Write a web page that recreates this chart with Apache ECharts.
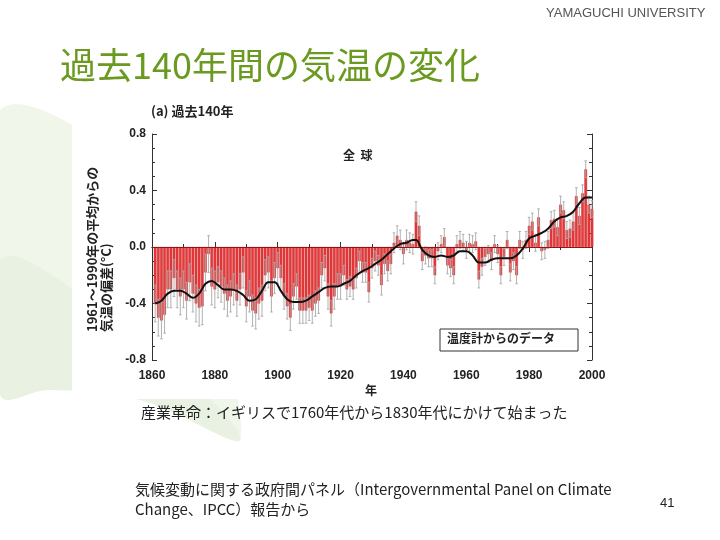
<!DOCTYPE html>
<html><head><meta charset="utf-8">
<script src="https://cdn.jsdelivr.net/npm/echarts@6/dist/echarts.min.js"></script>
<style>html,body{margin:0;padding:0;background:#fff}#c{width:720px;height:540px}</style>
</head><body><div id="c"></div>
<script>
// ---- data ----
const firstYear = 1861;
const anomaly = [
 -0.40,-0.50,-0.52,-0.48,-0.30,-0.30,-0.22,-0.30,-0.35,-0.30,
 -0.38,-0.25,-0.33,-0.40,-0.43,-0.42,-0.18,-0.05,-0.28,-0.30,
 -0.25,-0.28,-0.33,-0.38,-0.35,-0.30,-0.38,-0.30,-0.18,-0.42,
 -0.35,-0.45,-0.47,-0.40,-0.38,-0.20,-0.18,-0.35,-0.22,-0.15,
 -0.22,-0.35,-0.42,-0.50,-0.35,-0.28,-0.45,-0.45,-0.45,-0.43,
 -0.45,-0.40,-0.38,-0.20,-0.15,-0.35,-0.47,-0.35,-0.28,-0.28,
 -0.20,-0.30,-0.28,-0.30,-0.22,-0.10,-0.18,-0.18,-0.32,-0.15,
 -0.10,-0.13,-0.27,-0.12,-0.17,-0.12, 0.03, 0.08, 0.05,-0.05,
  0.05, 0.03, 0.02, 0.25, 0.15,-0.10,-0.06,-0.08,-0.08,-0.20,
 -0.03, 0.02, 0.07,-0.13,-0.15,-0.20, 0.02, 0.05, 0.03,-0.02,
  0.03, 0.02, 0.04,-0.23,-0.14,-0.07,-0.05,-0.10, 0.02,-0.05,
 -0.20,-0.07, 0.05,-0.18,-0.10,-0.20, 0.05,-0.02, 0.05, 0.15,
  0.18, 0.03, 0.21,-0.03,-0.02, 0.05, 0.19, 0.20, 0.14, 0.30,
  0.26, 0.12, 0.13, 0.18, 0.36, 0.22, 0.38, 0.55, 0.30, 0.27
];
// half-width of the grey error bars, by period [from, to, half-width]
const uncertaintyEras = [[1861,1880,0.13],[1881,1900,0.11],[1901,1920,0.09],[1921,1945,0.07],[1946,1980,0.06],[1981,2000,0.06]];
// smoothed curve
const smoothYears  = [1861,1863,1865,1867,1869,1871,1873,1875,1877,1879,1881,1883,1885,1887,1889,1891,1893,1895,1897,1899,1901,1903,1905,1907,1909,1911,1913,1915,1917,1919,1921,1923,1925,1927,1929,1931,1933,1935,1937,1939,1941,1943,1944,1946,1948,1950,1952,1954,1956,1958,1960,1962,1964,1966,1968,1970,1972,1974,1976,1978,1980,1982,1984,1986,1988,1990,1992,1994,1996,1998,2000];
const smoothValues = [-0.40,-0.38,-0.33,-0.31,-0.31,-0.33,-0.36,-0.33,-0.26,-0.24,-0.27,-0.30,-0.30,-0.31,-0.34,-0.38,-0.37,-0.31,-0.25,-0.25,-0.31,-0.37,-0.39,-0.39,-0.38,-0.35,-0.32,-0.29,-0.28,-0.28,-0.26,-0.24,-0.20,-0.17,-0.15,-0.12,-0.09,-0.05,-0.01,0.02,0.03,0.05,0.05,-0.02,-0.06,-0.07,-0.06,-0.07,-0.06,-0.03,-0.03,-0.06,-0.11,-0.11,-0.09,-0.08,-0.08,-0.08,-0.06,-0.01,0.06,0.08,0.10,0.13,0.18,0.21,0.22,0.25,0.31,0.35,0.35];
const xTickLabels = ['1860','1880','1900','1920','1940','1960','1980','2000'];
const yTickLabels = ['-0.8','-0.4','0.0','0.4','0.8'];

// ---- build ----
const years = anomaly.map((_, i) => firstYear + i);
function uncertainty(y){ for (const e of uncertaintyEras) if (y >= e[0] && y <= e[1]) return e[2]; return 0.06; }
const barData = years.map((y, i) => [y, anomaly[i]]);
const errData = years.map((y, i) => [y, anomaly[i] - uncertainty(y), anomaly[i] + uncertainty(y)]);
const lineData = smoothYears.map((y, i) => [y, smoothValues[i]]);

const JP = '"Noto Sans CJK JP", "Noto Sans", sans-serif';
const AX = '"Liberation Sans", Arial, sans-serif';

const chart = echarts.init(document.getElementById('c'), null, {renderer: 'canvas'});
const tickLine = {color: '#333'};
function axisParts(minorSplit){
  return {
    axisLine: {show: true, lineStyle: {color: '#333', width: 1}},
    axisTick: {show: true, inside: true, length: 5, lineStyle: tickLine},
    minorTick: {show: true, splitNumber: minorSplit, length: 3, lineStyle: tickLine},
    splitLine: {show: false}
  };
}
chart.setOption({
  animation: false,
  backgroundColor: '#fff',
  graphic: [
    {type: 'polygon', z: -10, shape: {smooth: 0.4, points: [[0,110],[110,150],[190,250],[240,440],[160,340],[70,290],[0,260]]}, style: {fill: '#f0f6ea'}},
    {type: 'polygon', z: -10, shape: {smooth: 0.4, points: [[0,260],[90,300],[170,360],[240,440],[140,400],[50,390],[0,395]]}, style: {fill: '#e8f1e2'}},
    {type: 'polygon', z: -10, shape: {smooth: 0.4, points: [[215,160],[250,115],[310,98],[265,125]]}, style: {fill: '#f0f6ea'}},
    {type: 'rect', z: -5, shape: {x: 72, y: 95, width: 556, height: 304}, style: {fill: '#fff'}},
    {type: 'text', left: 546, top: 7, style: {text: 'YAMAGUCHI UNIVERSITY', font: '13px ' + AX, fill: '#555'}},
    {type: 'text', left: 60, top: 47, style: {text: '過去140年間の気温の変化', font: '36px ' + JP, fill: '#6b9a20'}},
    {type: 'text', left: 151, top: 105, style: {text: '(a) 過去140年', font: 'bold 13px ' + JP, fill: '#222'}},
    {type: 'text', x: 92, y: 332, rotation: Math.PI / 2, style: {text: '1961～1990年の平均からの', font: 'bold 13px ' + JP, fill: '#222', align: 'left', verticalAlign: 'middle'}},
    {type: 'text', x: 106, y: 332, rotation: Math.PI / 2, style: {text: '気温の偏差(°C)', font: 'bold 13px ' + JP, fill: '#222', align: 'left', verticalAlign: 'middle'}},
    {type: 'text', left: 343, top: 149, style: {text: '全  球', font: 'bold 12px ' + JP, fill: '#222'}},
    {type: 'rect', z: 50, shape: {x: 440, y: 329, width: 138, height: 22}, style: {fill: '#fff', stroke: '#333', lineWidth: 1}},
    {type: 'text', left: 447, top: 332, z: 51, style: {text: '温度計からのデータ', font: 'bold 12px ' + JP, fill: '#222'}},
    {type: 'text', left: 365, top: 384, style: {text: '年', font: 'bold 12px ' + JP, fill: '#222'}},
    {type: 'text', left: 141, top: 405, style: {text: '産業革命：イギリスで1760年代から1830年代にかけて始まった', font: '15px ' + JP, fill: '#222'}},
    {type: 'text', left: 135, top: 482, style: {text: '気候変動に関する政府間パネル（Intergovernmental Panel on Climate', font: '15px ' + JP, fill: '#222'}},
    {type: 'text', left: 135, top: 502, style: {text: 'Change、IPCC）報告から', font: '15px ' + JP, fill: '#222'}},
    {type: 'text', left: 660, top: 497, style: {text: '41', font: '13px ' + AX, fill: '#222'}}
  ],
  grid: {left: 152, top: 134, width: 440, height: 226, containLabel: false},
  xAxis: [
    Object.assign({type: 'value', min: 1860, max: 2000, interval: 20, position: 'bottom',
      axisLabel: {margin: 10, color: '#222', fontFamily: AX, fontWeight: 'bold', fontSize: 12,
        formatter: function (v) { return xTickLabels[Math.round((v - 1860) / 20)] || ''; }}}, axisParts(2)),
    Object.assign({type: 'value', min: 1860, max: 2000, interval: 20, position: 'top', axisLabel: {show: false}}, axisParts(2))
  ],
  yAxis: [
    Object.assign({type: 'value', min: -0.8, max: 0.8, interval: 0.4, position: 'left',
      axisLabel: {margin: 6, color: '#222', fontFamily: AX, fontWeight: 'bold', fontSize: 12,
        formatter: function (v) { return yTickLabels[Math.round((v + 0.8) / 0.4)] || ''; }}}, axisParts(4)),
    Object.assign({type: 'value', min: -0.8, max: 0.8, interval: 0.4, position: 'right', axisLabel: {show: false}}, axisParts(4))
  ],
  series: [
    {type: 'bar', data: barData, barWidth: 2.6, itemStyle: {color: '#e8383a', borderColor: '#c01818', borderWidth: 0.4}, z: 2,
      markLine: {silent: true, symbol: 'none', label: {show: false}, lineStyle: {color: '#9a1010', width: 1, type: 'solid'}, data: [{yAxis: 0}]}},
    {type: 'custom', data: errData, z: 3,
      renderItem: function (params, api) {
        const x = api.value(0);
        const lo = api.coord([x, api.value(1)]);
        const hi = api.coord([x, api.value(2)]);
        const st = {stroke: '#a8a8a8', lineWidth: 0.9};
        return {type: 'group', children: [
          {type: 'line', shape: {x1: lo[0], y1: lo[1], x2: hi[0], y2: hi[1]}, style: st},
          {type: 'line', shape: {x1: lo[0] - 1.3, y1: lo[1], x2: lo[0] + 1.3, y2: lo[1]}, style: st},
          {type: 'line', shape: {x1: hi[0] - 1.3, y1: hi[1], x2: hi[0] + 1.3, y2: hi[1]}, style: st}
        ]};
      }},
    {type: 'line', data: lineData, smooth: 0.4, showSymbol: false, lineStyle: {color: '#111', width: 2}, z: 5}
  ]
});
</script></body></html>
